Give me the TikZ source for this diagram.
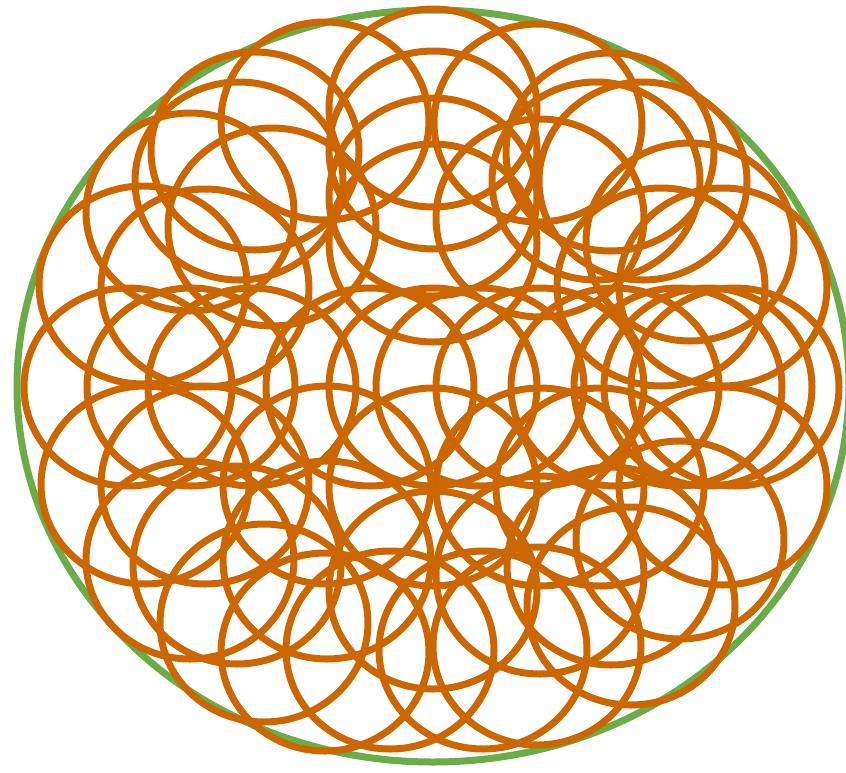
\documentclass[tikz,border=0pt]{standalone}
\definecolor{ringorange}{RGB}{204,102,0}
\definecolor{rimgreen}{RGB}{106,172,71}
\begin{document}
\begin{tikzpicture}[x=1pt,y=-1pt,
  oc/.style={draw=ringorange,line width=7pt},
  gc/.style={draw=rimgreen,line width=7pt}]
\useasboundingbox (0,0) rectangle (846,772);
\draw[gc] (433,386) ellipse [x radius=416pt, y radius=376pt];
\foreach \cx/\cy in {433/108,325/121,538/123,255/151,610/152,239/181,643/181,596/181,433/150,433/197,433/243,190/212,272/227,540/218,690/242,143/285,205/288,661/287,723/287,
128/387,191/387,252/387,370/387,433/387,480/387,540/387,615/387,678/387,708/387,735/387,
145/485,205/485,327/485,433/487,540/487,600/487,723/486,
190/560,237/565,327/560,433/590,540/575,611/566,680/540,
264/623,325/652,390/650,483/650,537/646,631/606}
  \draw[oc] (\cx,\cy) ellipse [x radius=104pt, y radius=99pt];
\end{tikzpicture}
\end{document}
